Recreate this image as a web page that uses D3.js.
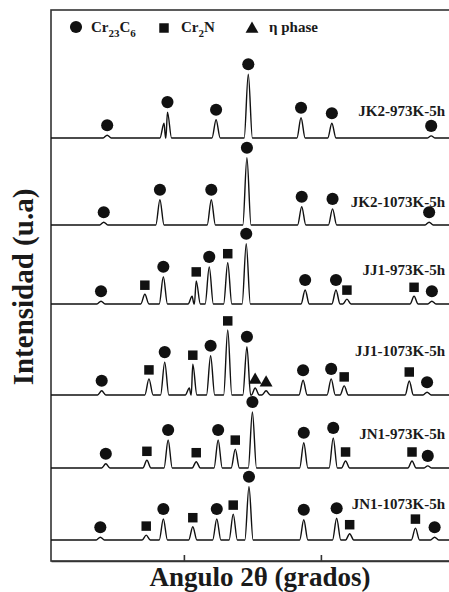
<!DOCTYPE html>
<html>
<head>
<meta charset="utf-8">
<script src="https://cdn.jsdelivr.net/npm/d3@7"></script>
<style>
  body { margin: 0; background: #fff; }
  text { font-family: "Liberation Serif", "Times New Roman", serif; font-weight: bold; fill: #1a1a1a; }
</style>
</head>
<body>
<div id="chart"></div>
<script>
// Peaks: [2theta, intensity (a.u.), phase]
// phase: "C" = Cr23C6, "N" = Cr2N, "E" = eta phase, "" = no marker
var samples = ["JK2-973K-5h", "JK2-1073K-5h", "JJ1-973K-5h", "JJ1-1073K-5h", "JN1-973K-5h", "JN1-1073K-5h"];

var jk2_973 = [
    [28.8, 4, "C"], [37.1, 21, ""], [37.6, 37, "C"], [44.7, 26, "C"], [49.4, 91, "C"],
    [57.1, 29, "C"], [61.6, 21, "C"], [76.1, 3, "C"]
];
var jk2_1073 = [
    [28.3, 4, "C"], [36.5, 36, "C"], [44.0, 36, "C"], [49.2, 96, "C"],
    [57.2, 26, "C"], [61.7, 23, "C"], [75.8, 4, "C"]
];
var jj1_973 = [
    [27.9, 4, "C"], [34.3, 14, "N"], [37.0, 39, "C"], [41.2, 11, ""], [41.8, 33, "N"],
    [43.7, 53, "C"], [46.4, 59, "N"], [49.1, 86, "C"], [57.7, 20, "C"], [62.2, 20, "C"],
    [63.8, 7, "N"], [73.6, 11, "N"], [76.2, 4, "C"]
];
var jj1_1073 = [
    [28.0, 6, "C"], [34.9, 23, "N"], [37.2, 47, "C"], [40.8, 10, ""], [41.3, 44, "N"],
    [43.9, 56, "C"], [46.4, 93, "N"], [49.2, 69, "C"], [50.4, 10, "E"], [52.0, 6, "E"],
    [57.4, 21, "C"], [61.5, 23, "C"], [63.4, 13, "N"], [72.9, 20, "N"], [75.5, 4, "C"]
];
var jn1_973 = [
    [28.6, 6, "C"], [34.6, 11, "N"], [37.7, 40, "C"], [41.8, 9, "N"], [45.0, 40, "C"],
    [47.5, 27, "N"], [50.0, 80, "C"], [57.5, 36, "C"], [61.8, 43, "C"], [63.6, 10, "N"],
    [73.3, 10, "N"], [75.6, 3, "C"]
];
var jn1_1073 = [
    [27.8, 4, "C"], [34.5, 7, "N"], [37.0, 30, "C"], [41.3, 19, "N"], [44.8, 30, "C"],
    [47.2, 37, "N"], [49.5, 76, "C"], [57.5, 29, "C"], [62.3, 31, "C"], [64.2, 9, "N"],
    [73.8, 17, "N"], [76.6, 4, "C"]
];
var patterns = [jk2_973, jk2_1073, jj1_973, jj1_1073, jn1_973, jn1_1073];
var xTicks = [40, 60];

// layout
var width = 449, height = 592;
var frame = {left: 51, top: 10, bottom: 561, right: 460};
var baseY = [138, 225, 304, 395, 468, 540];
var labelDy = [-22, -18, -29, -39, -29, -31];
var peakHalfWidth = 0.6;

var svg = d3.select("#chart").append("svg")
    .attr("width", width)
    .attr("height", height);

var x = d3.scaleLinear().domain([20.6, 78.7]).range([frame.left, width]);
var yOff = d3.scaleLinear().domain([0, 100]).range([0, 70]);

// frame (right side runs off the picture)
svg.append("rect")
    .attr("x", frame.left)
    .attr("y", frame.top)
    .attr("width", frame.right - frame.left)
    .attr("height", frame.bottom - frame.top)
    .style("fill", "none")
    .style("stroke", "#333")
    .style("stroke-width", 1.6);

svg.append("g")
    .attr("transform", "translate(0," + frame.bottom + ")")
    .call(d3.axisBottom(x).tickValues(xTicks).tickSize(-6).tickSizeOuter(0).tickFormat(""))
    .call(g => g.selectAll("line, path").style("stroke", "#333").style("stroke-width", 1.6));

// build a trace: flat baseline with a narrow peak at each reflection
function tracePoints(peaks) {
    var pts = [[x.domain()[0], 0]];
    peaks.forEach(function(p, i) {
        var prev = peaks[i - 1], next = peaks[i + 1];
        var wl = prev ? Math.min(peakHalfWidth, (p[0] - prev[0]) * 0.45) : peakHalfWidth;
        var wr = next ? Math.min(peakHalfWidth, (next[0] - p[0]) * 0.45) : peakHalfWidth;
        pts.push([p[0] - wl, 0], [p[0], p[1]], [p[0] + wr, 0]);
    });
    pts.push([x.domain()[1] + 2, 0]);
    return pts;
}

var symbolFor = {
    "C": d3.symbol().type(d3.symbolCircle).size(115),
    "N": d3.symbol().type(d3.symbolSquare).size(90),
    "E": d3.symbol().type(d3.symbolTriangle).size(72)
};
var gapFor = {"C": 10, "N": 9, "E": 8};

patterns.forEach(function(peaks, i) {
    var base = baseY[i];
    var line = d3.line()
        .x(d => x(d[0]))
        .y(d => base - yOff(d[1]))
        .curve(d3.curveMonotoneX);

    svg.append("path")
        .datum(tracePoints(peaks))
        .attr("d", line)
        .style("fill", "none")
        .style("stroke", "#111")
        .style("stroke-width", 1.4);

    svg.append("g").selectAll("path")
        .data(peaks.filter(p => p[2] !== ""))
        .enter().append("path")
        .attr("d", p => symbolFor[p[2]]())
        .attr("transform", p => "translate(" + x(p[0]) + "," + (base - yOff(p[1]) - gapFor[p[2]]) + ")")
        .style("fill", "#111");

    svg.append("text")
        .attr("x", 445)
        .attr("y", base + labelDy[i])
        .attr("text-anchor", "end")
        .style("font-size", "15px")
        .text(samples[i]);
});

// legend
var legend = svg.append("g");
legend.append("path").attr("d", symbolFor["C"]()).attr("transform", "translate(76,27)").style("fill", "#111");
legend.append("path").attr("d", symbolFor["N"]()).attr("transform", "translate(164,28)").style("fill", "#111");
legend.append("path").attr("d", symbolFor["E"]()).attr("transform", "translate(252,29)").style("fill", "#111");

var t1 = legend.append("text").attr("x", 91).attr("y", 32).style("font-size", "15px");
t1.append("tspan").text("Cr");
t1.append("tspan").attr("dy", 5).style("font-size", "11px").text("23");
t1.append("tspan").attr("dy", -5).text("C");
t1.append("tspan").attr("dy", 5).style("font-size", "11px").text("6");

var t2 = legend.append("text").attr("x", 181).attr("y", 32).style("font-size", "15px");
t2.append("tspan").text("Cr");
t2.append("tspan").attr("dy", 5).style("font-size", "11px").text("2");
t2.append("tspan").attr("dy", -5).text("N");

legend.append("text").attr("x", 269).attr("y", 32).style("font-size", "15px").text("η phase");

// axis titles
svg.append("text")
    .attr("x", 260)
    .attr("y", 586)
    .attr("text-anchor", "middle")
    .style("font-size", "27px")
    .text("Angulo 2θ (grados)");

svg.append("text")
    .attr("transform", "translate(33,287) rotate(-90)")
    .attr("text-anchor", "middle")
    .style("font-size", "29px")
    .text("Intensidad (u.a)");
</script>
</body>
</html>
